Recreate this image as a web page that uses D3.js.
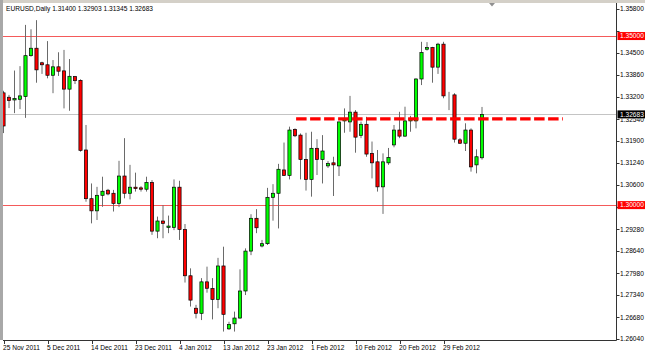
<!DOCTYPE html>
<html lang="en">
<head>
<meta charset="UTF-8" />
<script src="https://unpkg.com/d3@7/dist/d3.min.js"></script>
<title>EURUSD Daily</title>
<style>
  body { margin: 0; background: #fff; }
  text { font-family: "Liberation Sans", Arial, sans-serif; font-size: 6.6px; fill: #000; }
</style>
</head>
<body>
<svg width="645" height="354"></svg>
<script>
// daily candles, 25 Nov 2011 .. early Mar 2012
const opens = [
  1.3332, 1.3319, 1.3311, 1.3313, 1.3321, 1.3442, 1.3464, 1.3421, 1.3415, 1.3384,
  1.3409, 1.3397, 1.3343, 1.3380, 1.3369, 1.3163, 1.3019, 1.2983, 1.3029, 1.3044,
  1.3035, 1.3005, 1.3086, 1.3035, 1.3053, 1.3051, 1.3047, 1.3067, 1.2923, 1.2953,
  1.2934, 1.2934, 1.3053, 1.2928, 1.2791, 1.2695, 1.2680, 1.2773, 1.2753, 1.2721,
  1.2820, 1.2634, 1.2649, 1.2666, 1.2746, 1.2864, 1.2961, 1.2879, 1.2886, 1.3023,
  1.3035, 1.3104, 1.3088, 1.3224, 1.3207, 1.3135, 1.3076, 1.3168, 1.3135, 1.3116,
  1.3125, 1.3116, 1.3249, 1.3246, 1.3275, 1.3206, 1.3239, 1.3153, 1.3128, 1.3054,
  1.3125, 1.3178, 1.3222, 1.3204, 1.3249, 1.3249, 1.3373, 1.3461, 1.3466, 1.3408,
  1.3476, 1.3323, 1.3326, 1.3193, 1.3183, 1.3222, 1.3119, 1.3140];
const highs = [
  1.3338, 1.3326, 1.3398, 1.3411, 1.3533, 1.3520, 1.3547, 1.3424, 1.3485, 1.3429,
  1.3452, 1.3459, 1.3432, 1.3382, 1.3372, 1.3237, 1.3064, 1.3054, 1.3084, 1.3048,
  1.3045, 1.3131, 1.3198, 1.3119, 1.3096, 1.3056, 1.3084, 1.3074, 1.2966, 1.3000,
  1.2969, 1.3076, 1.3072, 1.2944, 1.2813, 1.2705, 1.2784, 1.2818, 1.2784, 1.2844,
  1.2877, 1.2655, 1.2685, 1.2810, 1.2872, 1.2973, 1.2988, 1.2897, 1.3051, 1.3062,
  1.3122, 1.3185, 1.3232, 1.3227, 1.3212, 1.3214, 1.3217, 1.3195, 1.3207, 1.3130,
  1.3143, 1.3247, 1.3286, 1.3323, 1.3281, 1.3247, 1.3261, 1.3188, 1.3163, 1.3153,
  1.3169, 1.3237, 1.3276, 1.3291, 1.3264, 1.3375, 1.3483, 1.3482, 1.3468, 1.3480,
  1.3483, 1.3335, 1.3331, 1.3198, 1.3242, 1.3227, 1.3165, 1.32903];
const lows = [
  1.3213, 1.3287, 1.3272, 1.3284, 1.3258, 1.3439, 1.3362, 1.3388, 1.3375, 1.3331,
  1.3382, 1.3286, 1.3279, 1.3358, 1.3158, 1.3010, 1.2946, 1.2956, 1.2995, 1.3029,
  1.2981, 1.2994, 1.3020, 1.3017, 1.3040, 1.3040, 1.3040, 1.2912, 1.2902, 1.2902,
  1.2917, 1.2926, 1.2897, 1.2771, 1.2700, 1.2665, 1.2660, 1.2741, 1.2662, 1.2695,
  1.2626, 1.2631, 1.2626, 1.2664, 1.2734, 1.2852, 1.2917, 1.2875, 1.2882, 1.2954,
  1.2931, 1.3086, 1.3076, 1.3201, 1.3076, 1.3043, 1.3025, 1.3089, 1.3064, 1.3110,
  1.3027, 1.3086, 1.3214, 1.3217, 1.3155, 1.3198, 1.3143, 1.3079, 1.3040, 1.2974,
  1.3119, 1.3171, 1.3198, 1.3202, 1.3217, 1.3227, 1.3355, 1.3457, 1.3362, 1.3388,
  1.3316, 1.3281, 1.3185, 1.3181, 1.3160, 1.3099, 1.3094, 1.31345];
const closes = [
  1.3234, 1.3309, 1.3315, 1.3323, 1.3442, 1.3464, 1.3400, 1.3415, 1.3384, 1.3409,
  1.3396, 1.3343, 1.3381, 1.3368, 1.3162, 1.3019, 1.2983, 1.3029, 1.3041, 1.3033,
  1.3005, 1.3086, 1.3035, 1.3053, 1.3049, 1.3047, 1.3067, 1.2923, 1.2953, 1.2946,
  1.2938, 1.3053, 1.2928, 1.2791, 1.2719, 1.2680, 1.2773, 1.2754, 1.2721, 1.2820,
  1.2677, 1.2647, 1.2666, 1.2746, 1.2864, 1.2961, 1.2933, 1.2886, 1.3023, 1.3035,
  1.3106, 1.3088, 1.3222, 1.3205, 1.3135, 1.3076, 1.3168, 1.3135, 1.3160, 1.3123,
  1.3119, 1.3246, 1.3255, 1.3275, 1.3201, 1.3239, 1.3151, 1.3125, 1.3054, 1.3128,
  1.3141, 1.3222, 1.3204, 1.3249, 1.3256, 1.3373, 1.3451, 1.3466, 1.3408, 1.3476,
  1.3323, 1.3323, 1.3195, 1.3183, 1.3222, 1.3113, 1.3143, 1.32683];

const yTicks = [1.35800, 1.35160, 1.34500, 1.33860, 1.33200, 1.32540, 1.31900, 1.31240,
  1.30600, 1.29940, 1.29280, 1.28640, 1.27980, 1.27340, 1.26680, 1.26040];
const xTickBars = [0, 8, 16, 24, 32, 40, 48, 56, 64, 72, 80];
const xTickLabels = ["25 Nov 2011", "5 Dec 2011", "14 Dec 2011", "23 Dec 2011", "4 Jan 2012",
  "13 Jan 2012", "23 Jan 2012", "1 Feb 2012", "10 Feb 2012", "20 Feb 2012", "29 Feb 2012"];
const levels = [1.35, 1.30];
const lastPrice = 1.32683;
const resistance = 1.3255;
const resistanceBars = [53.2, 101.7];
const title = "EURUSD,Daily  1.31400 1.32903 1.31345 1.32683";

const svg = d3.select("svg");
const width = +svg.attr("width");
const height = +svg.attr("height");
const plotLeft = 3, plotRight = 616, plotTop = 3, plotBottom = 340;

const x = d3.scaleLinear().domain([0, 87]).range([3.5, 482]);
const y = d3.scaleLinear().domain([1.2604, 1.358]).range([339, 9]);

const bars = opens.map((o, i) => ({ i, o, h: highs[i], l: lows[i], c: closes[i] }));

// window chrome
svg.append("rect").attr("width", width).attr("height", height).attr("fill", "#fff");
svg.append("rect").attr("x", 0).attr("y", 0).attr("width", width).attr("height", plotTop).attr("fill", "#d4d0c8");
svg.append("rect").attr("x", 0).attr("y", 0).attr("width", plotLeft).attr("height", plotBottom).attr("fill", "#a8a8a8");

const defs = svg.append("defs");
defs.append("clipPath").attr("id", "plot")
  .append("rect").attr("x", plotLeft).attr("y", plotTop)
  .attr("width", plotRight - plotLeft).attr("height", plotBottom - plotTop);
defs.append("filter").attr("id", "blur").attr("x", "-5%").attr("y", "-200%").attr("width", "110%").attr("height", "500%")
  .append("feGaussianBlur").attr("stdDeviation", 1.1);

const plot = svg.append("g").attr("clip-path", "url(#plot)");

// horizontal levels
plot.selectAll(".level").data(levels).join("line")
  .attr("x1", plotLeft).attr("x2", plotRight)
  .attr("y1", d => Math.round(y(d)) + 0.5).attr("y2", d => Math.round(y(d)) + 0.5)
  .attr("stroke", "#f45a5a").attr("stroke-width", 1);

plot.append("line")
  .attr("x1", plotLeft).attr("x2", plotRight)
  .attr("y1", Math.round(y(lastPrice)) + 0.5).attr("y2", Math.round(y(lastPrice)) + 0.5)
  .attr("stroke", "#c4c4c4");

// candles
const candle = plot.selectAll(".candle").data(bars).join("g");
candle.append("line")
  .attr("x1", d => x(d.i)).attr("x2", d => x(d.i))
  .attr("y1", d => y(d.h)).attr("y2", d => y(d.l))
  .attr("stroke", "#6a6a6a").attr("stroke-width", 1);
candle.append("rect")
  .attr("x", d => x(d.i) - 1.6).attr("width", 3.2)
  .attr("y", d => y(Math.max(d.o, d.c)))
  .attr("height", d => Math.abs(y(d.o) - y(d.c)))
  .attr("fill", d => d.c > d.o ? "#00ff00" : d.c < d.o ? "#ff0000" : "#000")
  .attr("stroke", "#000").attr("stroke-width", 0.7);

// hand drawn resistance line with its shadow
plot.append("line")
  .attr("x1", x(resistanceBars[0])).attr("x2", x(resistanceBars[1]))
  .attr("y1", y(resistance) - 3.5).attr("y2", y(resistance) - 3.5)
  .attr("stroke", "#888").attr("stroke-width", 3.5).attr("opacity", 0.8)
  .attr("stroke-dasharray", "10.5,3.5").attr("filter", "url(#blur)");
plot.append("line")
  .attr("x1", x(resistanceBars[0])).attr("x2", x(resistanceBars[1]))
  .attr("y1", y(resistance)).attr("y2", y(resistance))
  .attr("stroke", "#ff0000").attr("stroke-width", 3.4)
  .attr("stroke-dasharray", "10.5,3.5");

// shift marker
svg.append("path").attr("d", "M489,3 L495,3 L492,6.5 Z").attr("fill", "#909090");

// axes lines
svg.append("line").attr("x1", plotRight + 0.5).attr("x2", plotRight + 0.5)
  .attr("y1", plotTop).attr("y2", plotBottom + 0.5).attr("stroke", "#333");
svg.append("line").attr("x1", plotLeft).attr("x2", plotRight + 0.5)
  .attr("y1", plotBottom + 0.5).attr("y2", plotBottom + 0.5).attr("stroke", "#333");

// price axis: labels hidden behind a price tag are skipped, the one half covered is cut
const tags = levels.map(v => ({ v, bg: "#ff0000" })).concat([{ v: lastPrice, bg: "#000" }]);
const covered = t => tags.some(g => Math.abs(y(g.v) - y(t)) < 2.5);
const peeking = t => !covered(t) && tags.some(g => Math.abs(y(g.v) - y(t)) < 8);

defs.selectAll(".cut").data(yTicks.filter(peeking)).join("clipPath")
  .attr("id", (d, i) => "cut" + i)
  .append("rect").attr("x", 617).attr("width", 28)
  .attr("y", d => {
    const g = tags.find(g => Math.abs(y(g.v) - y(d)) < 8);
    return y(g.v) + 4;
  })
  .attr("height", 10);

const yAxis = svg.append("g");
yAxis.selectAll("line").data(yTicks).join("line")
  .attr("x1", plotRight).attr("x2", plotRight + 3.5)
  .attr("y1", d => Math.round(y(d)) + 0.5).attr("y2", d => Math.round(y(d)) + 0.5)
  .attr("stroke", "#333");
yAxis.selectAll("text").data(yTicks.filter(t => !covered(t))).join("text")
  .attr("x", 620).attr("y", d => y(d)).attr("dy", "0.35em")
  .attr("clip-path", d => {
    const k = yTicks.filter(peeking).indexOf(d);
    return k >= 0 ? "url(#cut" + k + ")" : null;
  })
  .text(d => d.toFixed(5));

// price tags
const tag = svg.selectAll(".tag").data(tags).join("g");
tag.append("rect")
  .attr("x", 617.5).attr("width", 27.5)
  .attr("y", d => y(d.v) - 4).attr("height", 8)
  .attr("fill", d => d.bg);
tag.append("text")
  .attr("x", 620).attr("y", d => y(d.v)).attr("dy", "0.35em")
  .style("fill", "#fff")
  .text(d => d.v.toFixed(5));

// time axis
const xAxis = svg.append("g");
xAxis.selectAll("line").data(xTickBars).join("line")
  .attr("x1", d => Math.round(x(d)) + 0.5).attr("x2", d => Math.round(x(d)) + 0.5)
  .attr("y1", plotBottom).attr("y2", plotBottom + 4)
  .attr("stroke", "#333");
xAxis.selectAll("text").data(xTickBars).join("text")
  .attr("x", d => x(d) - 0.5).attr("y", 349.5)
  .text((d, i) => xTickLabels[i]);

svg.append("text").attr("x", 6).attr("y", 10.5).text(title);
</script>
</body>
</html>
